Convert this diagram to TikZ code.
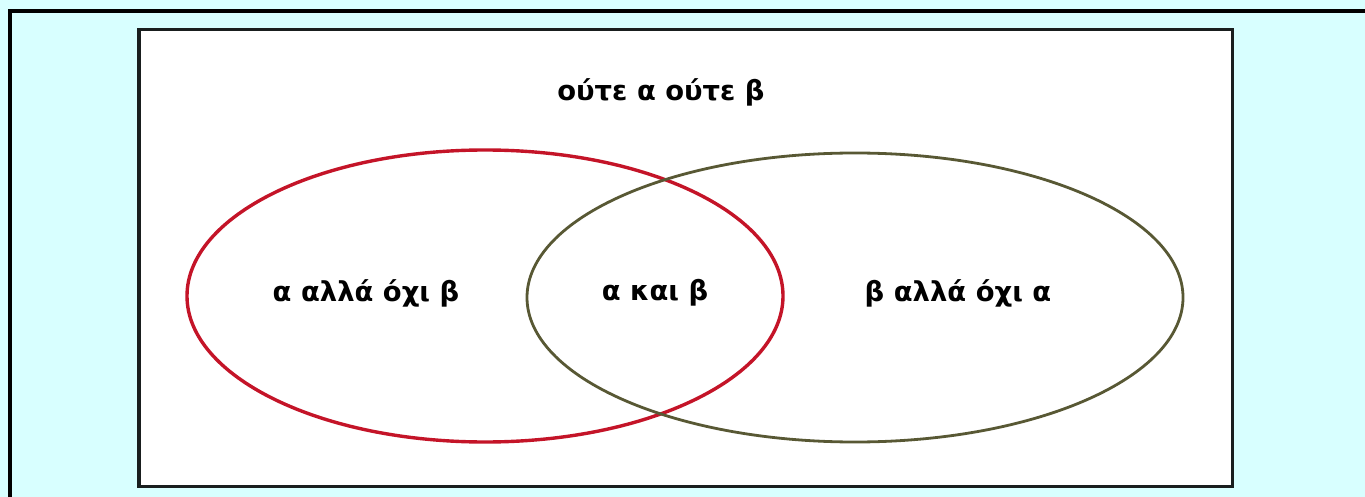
\documentclass[tikz,border=0pt]{standalone}
\usepackage{fontspec}
\setmainfont{DejaVu Sans}
\definecolor{bgcyan}{RGB}{216,255,255}
\definecolor{setred}{RGB}{196,20,40}
\definecolor{setolive}{RGB}{88,88,52}
\definecolor{framegray}{RGB}{25,30,30}
\begin{document}
\begin{tikzpicture}[x=1bp,y=-1bp,
  lbl/.style={font=\fontsize{27.5}{32}\selectfont\bfseries, inner sep=0pt, text=black},
  seta/.style={draw=setred, line width=3.4bp},
  setb/.style={draw=setolive, line width=2.8bp}]
\useasboundingbox (0,0) rectangle (1365,497);
\fill[bgcyan] (0,0) rectangle (1365,497);
\draw[line width=4bp, black] (10,497) -- (10,11.5) -- (1365,11.5);
\draw[fill=white, draw=framegray, line width=3.6bp] (139,29.5) rectangle (1232.5,486.5);
\draw[seta] (485,296) ellipse [x radius=298, y radius=146];
\draw[setb] (855,297.5) ellipse [x radius=328, y radius=144.5];
\node[lbl] (neither) at (661,92) {ούτε α ούτε β};
\node[lbl] (aonly) at (366,293) {α αλλά όχι β};
\node[lbl] (both) at (655,293) {α και β};
\node[lbl] (bonly) at (958,293) {β αλλά όχι α};
\end{tikzpicture}
\end{document}
